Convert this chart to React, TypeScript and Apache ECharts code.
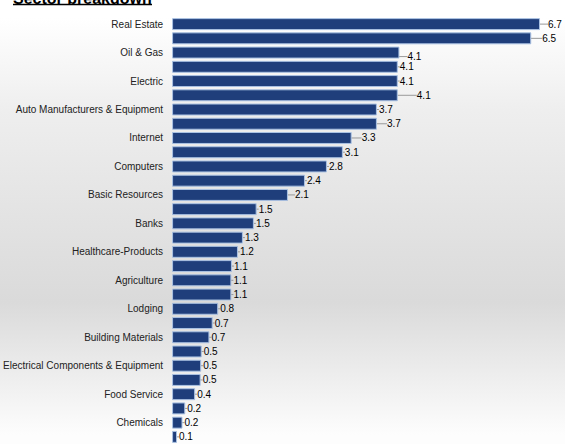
import React, { useEffect, useRef } from "react";
import * as echarts from "echarts";

const categories: string[] = [
  "Real Estate", "", "Oil & Gas", "", "Electric", "",
  "Auto Manufacturers & Equipment", "", "Internet", "", "Computers", "",
  "Basic Resources", "", "Banks", "", "Healthcare-Products", "",
  "Agriculture", "", "Lodging", "", "Building Materials", "",
  "Electrical Components & Equipment", "", "Food Service", "", "Chemicals", "",
];

const values: number[] = [
  6.7, 6.54, 4.14, 4.11, 4.11, 4.11, 3.73, 3.73, 3.27, 3.11,
  2.82, 2.42, 2.11, 1.54, 1.49, 1.29, 1.2, 1.09, 1.08, 1.08,
  0.84, 0.74, 0.68, 0.54, 0.53, 0.52, 0.42, 0.24, 0.19, 0.09,
];

const titleText = "Sector breakdown";

// label displacement (px) for labels Excel moved off their bars
const labelShift: Record<number, [number, number]> = {
  0: [6, 0], 1: [9, 0], 2: [6, 4], 5: [17, 0], 7: [8, 0], 8: [8, 0], 12: [5, 0],
};

export default function App() {
  const ref = useRef<HTMLDivElement>(null);
  useEffect(() => {
    if (!ref.current) return;
    const chart = echarts.init(ref.current, null, { renderer: "svg" });
    chart.setOption({
      animation: false,
      backgroundColor: new echarts.graphic.LinearGradient(0, 0, 0, 1, [
        { offset: 0, color: "#ffffff" },
        { offset: 0.04, color: "#ffffff" },
        { offset: 0.25, color: "#eeeeee" },
        { offset: 0.68, color: "#dadada" },
        { offset: 0.98, color: "#fdfdfd" },
      ]),
      graphic: [
        {
          type: "text",
          left: 13,
          top: -10,
          style: {
            text: titleText,
            font: "bold 16px 'Liberation Sans', Arial, sans-serif",
            fill: "#000",
          },
        },
        {
          type: "line",
          shape: { x1: 13, y1: 4.5, x2: 152, y2: 4.5 },
          style: { stroke: "#000", lineWidth: 1.5 },
        },
      ],
      grid: { left: 172, right: 8.5, top: 17, bottom: -4.6, containLabel: false },
      xAxis: {
        type: "value",
        min: 0,
        max: 7,
        show: false,
      },
      yAxis: {
        type: "category",
        inverse: true,
        data: categories,
        axisLine: { show: false },
        axisTick: { show: false },
        splitLine: { show: false },
        axisLabel: {
          interval: 1,
          margin: 9,
          fontFamily: "'Liberation Sans', Arial, sans-serif",
          fontSize: 10,
          color: "#222",
        },
      },
      series: [
        {
          type: "bar",
          data: values,
          barCategoryGap: "16%",
          itemStyle: { color: "#1f3e7b", borderColor: "#a9c1e2", borderWidth: 1 },
          label: {
            show: true,
            position: "right",
            distance: 2,
            fontFamily: "'Liberation Sans', Arial, sans-serif",
            fontSize: 10,
            color: "#000",
            formatter: (p: any) => Number(p.value).toFixed(1),
          },
          labelLine: { show: true, lineStyle: { color: "#999", width: 1 } },
          labelLayout: (p: any) => {
            const s = labelShift[p.dataIndex];
            return s ? { dx: s[0], dy: s[1] } : {};
          },
        },
      ],
    });
    return () => chart.dispose();
  }, []);
  return (
    <div style={{ position: "fixed", left: 0, top: 0, width: 565, height: 444 }}>
      <div ref={ref} style={{ width: 565, height: 444 }} />
    </div>
  );
}
